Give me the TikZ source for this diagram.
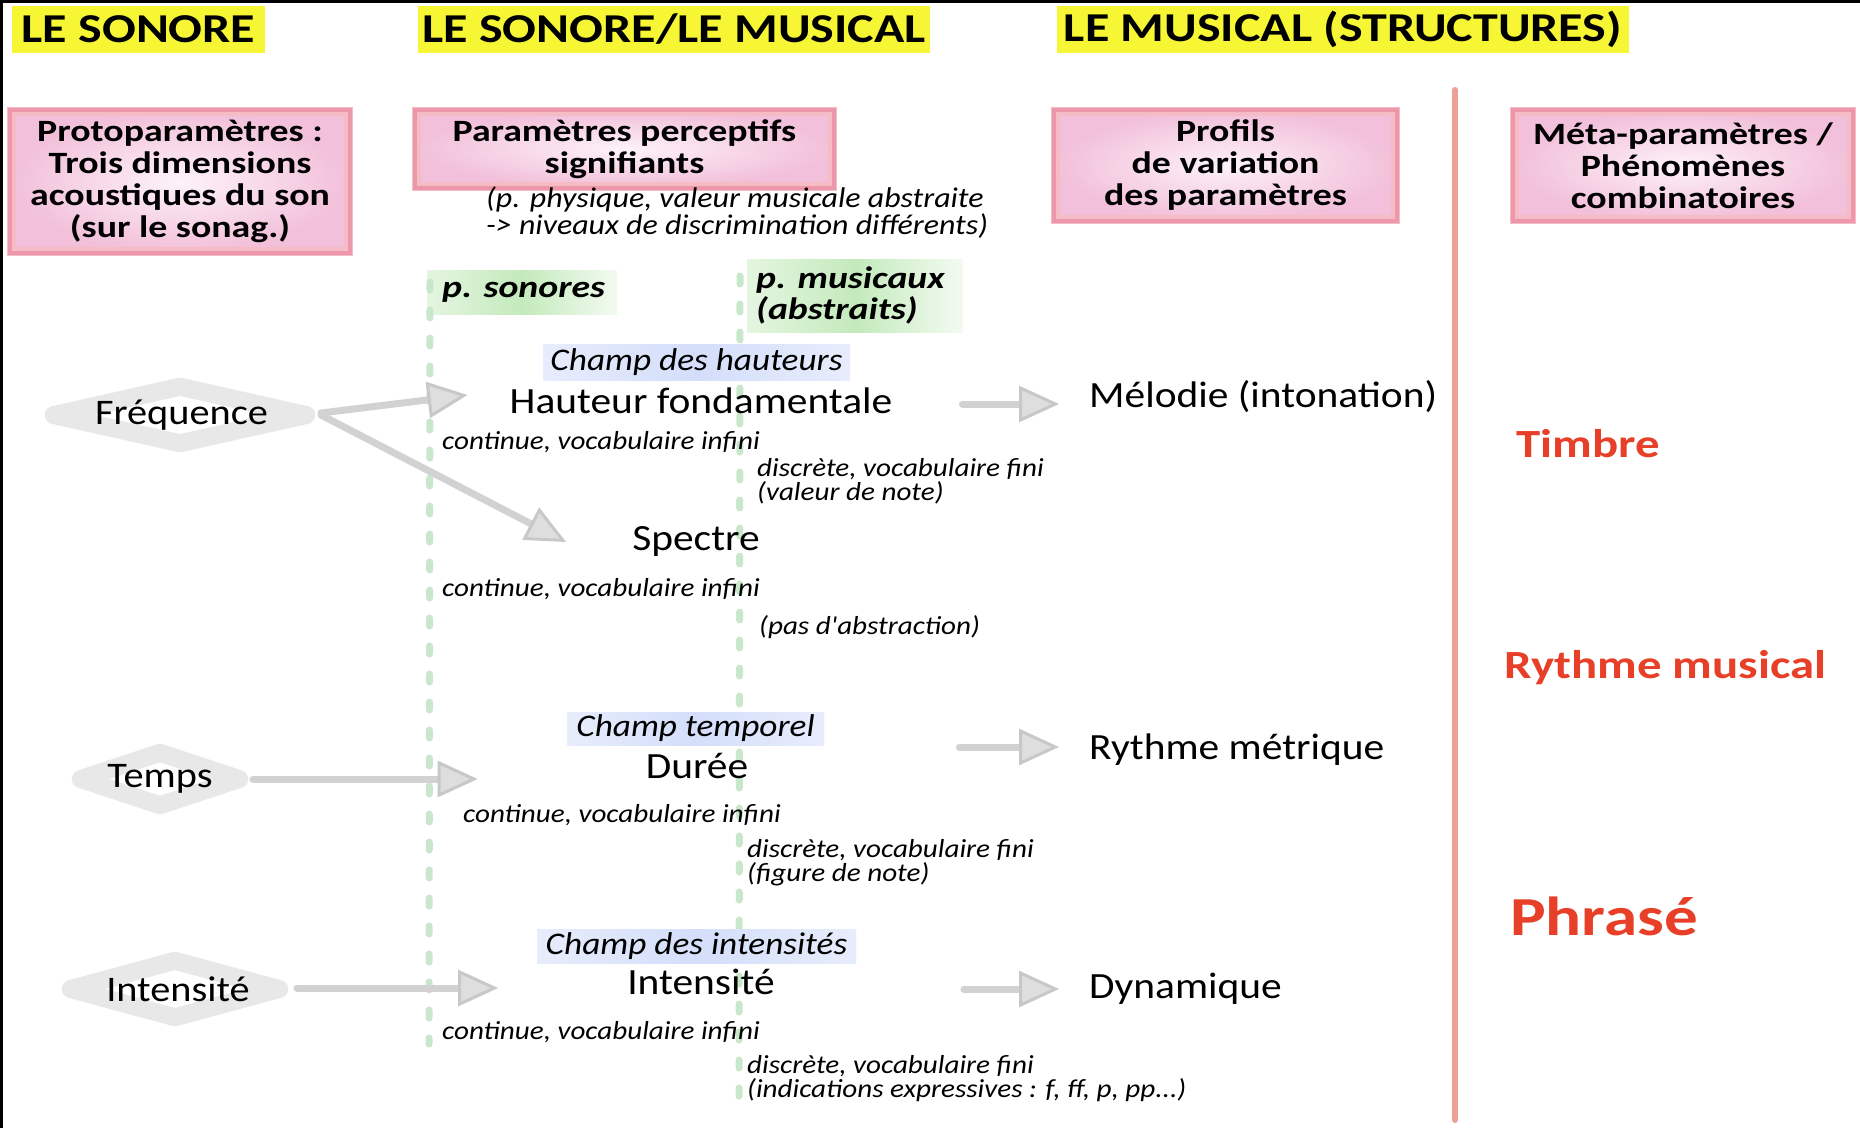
\documentclass[tikz,border=0pt]{standalone}
\usepackage{fontspec}
\setmainfont{Carlito}[FakeStretch=1.12,Ligatures=TeXOff]
\newfontfamily\widefont{Carlito}[FakeStretch=1.22,Ligatures=TeXOff]
\usetikzlibrary{shapes.geometric,arrows.meta,calc}
\definecolor{hdryellow}{RGB}{246,246,52}
\definecolor{pinkline}{RGB}{245,188,198}
\definecolor{pinkdark}{RGB}{237,152,170}
\definecolor{pinkin}{RGB}{253,242,249}
\definecolor{pinkout}{RGB}{242,192,218}
\definecolor{dashgreen}{RGB}{201,232,203}
\definecolor{labgreen}{RGB}{196,234,188}
\definecolor{labblue}{RGB}{212,222,250}
\definecolor{diagray}{RGB}{232,232,232}
\definecolor{arrline}{RGB}{210,210,210}
\definecolor{arrhead}{RGB}{200,200,200}
\definecolor{arrfill}{RGB}{222,222,222}
\definecolor{redline}{RGB}{236,160,150}
\definecolor{redtext}{RGB}{232,64,40}
\begin{document}
\begin{tikzpicture}[x=1pt,y=-1pt,
  hdr/.style={fill=hdryellow,inner sep=0,minimum height=47,font=\widefont\fontsize{41}{44}\selectfont\bfseries},
  pinkbox/.style={draw=pinkline,line width=9,shading=radial,inner color=pinkin,outer color=pinkout,
     align=center,inner sep=0,font=\widefont\fontsize{31}{32}\selectfont\bfseries},
  pinkinner/.style={draw=pinkdark,line width=3.5},
  gbox/.style={left color=labgreen!45,right color=labgreen!20,middle color=labgreen,inner sep=0},
  glab/.style={align=left,inner sep=0,font=\widefont\fontsize{31}{31}\selectfont\bfseries\itshape},
  champ/.style={left color=labblue!55,right color=labblue!55,middle color=labblue,inner sep=0,
     font=\fontsize{31.5}{33}\selectfont\itshape},
  param/.style={inner sep=0,font=\fontsize{37}{40}\selectfont},
  prof/.style={inner sep=0,anchor=west,font=\fontsize{37}{40}\selectfont},
  note/.style={inner sep=0,anchor=west,align=left,font=\fontsize{26}{24}\selectfont\itshape},
  meta/.style={inner sep=0,anchor=west,text=redtext,font=\widefont\fontsize{40}{44}\selectfont\bfseries},
  dia/.style={shape=diamond,draw=diagray,fill=white,line width=18,line join=round,inner sep=0},
  dtext/.style={inner sep=0,font=\fontsize{36}{40}\selectfont},
  garrow/.style={draw=arrline,line width=7,line cap=round,
     -{Triangle[length=40pt,width=36pt,color=arrhead,fill=arrfill,line width=3pt]}},
  gdash/.style={draw=dashgreen,line width=7,line cap=round,dash pattern=on 8pt off 20pt}
]
\useasboundingbox (0,0) rectangle (1860,1128);
\fill[white] (0,0) rectangle (1860,1128);
\draw[line width=3] (1.5,1128) -- (1.5,1.5) -- (1860,1.5);

% headers
\node[hdr,minimum width=253] (h1) at (138.5,29.5) {LE SONORE};
\node[hdr,minimum width=512] (h2) at (674,29.5) {LE SONORE/LE MUSICAL};
\node[hdr,minimum width=572] (h3) at (1343,29.5) {LE MUSICAL (STRUCTURES)};

% pink boxes
\node[pinkbox,minimum width=337,minimum height=140] (proto) at (180,181.5)
  {Protoparamètres :\\Trois dimensions\\acoustiques du son\\(sur le sonag.)};
\node[pinkbox,minimum width=416,minimum height=75] (perc) at (624.5,149)
  {Paramètres perceptifs\\signifiants};
\node[pinkbox,minimum width=340,minimum height=108] (prof) at (1225.5,165.5)
  {Profils\\de variation\\des paramètres};
\node[pinkbox,minimum width=337,minimum height=108] (metap) at (1683,165.5)
  {Méta-paramètres /\\Phénomènes\\combinatoires};
\foreach \b in {proto,perc,prof,metap}
  \draw[pinkinner] ($(\b.north west)+(3,3)$) rectangle ($(\b.south east)+(-3,-3)$);
\node[note,font=\fontsize{28.5}{27}\selectfont\itshape] (pnote) at (486,213)
  {(p. physique, valeur musicale abstraite\\-> niveaux de discrimination différents)};

% separator
\draw[draw=redline,line width=6,line cap=round] (1455,90) -- (1455,1120);

% green dashed lines and labels
\node[gbox,minimum width=190,minimum height=44] (gs) at (522,292) {};
\node[gbox,minimum width=216,minimum height=73] (gm) at (855,295.5) {};
\draw[gdash] (430,282) -- (429,1044);
\draw[gdash] (740,276) -- (739,1097);
\node[glab,anchor=west] (ps) at (442,292) {p. sonores};
\node[glab,anchor=west] (pm) at (756,295.5) {p. musicaux\\(abstraits)};

% champ labels
\node[champ,minimum width=307,minimum height=36] (c1) at (696.5,362) {Champ des hauteurs};
\node[champ,minimum width=257,minimum height=33] (c2) at (695.5,728.5) {Champ temporel};
\node[champ,minimum width=319,minimum height=34] (c3) at (696.5,946) {Champ des intensités};

% diamonds
\node[dia,minimum width=260,minimum height=64] (freqd) at (180,415) {};
\node[dtext] (freq) at (181.5,415) {Fréquence};
\node[dia,minimum width=166,minimum height=60] (tempsd) at (160,779) {};
\node[dtext] (temps) at (160,779) {Temps};
\node[dia,minimum width=216,minimum height=64] (intd) at (175,989) {};
\node[dtext] (int) at (178,989) {Intensité};

% parameters
\node[param] (haut) at (701,401) {Hauteur fondamentale};
\node[param] (spec) at (696,541) {Spectre};
\node[param] (duree) at (697,766) {Durée};
\node[param] (intp) at (701,982) {Intensité};

% notes
\node[note] (n1) at (442,442) {continue, vocabulaire infini};
\node[note] (n2) at (757,481) {discrète, vocabulaire fini\\(valeur de note)};
\node[note] (n3) at (442,589) {continue, vocabulaire infini};
\node[note] (n4) at (759,627) {(pas d'abstraction)};
\node[note] (n5) at (463,815) {continue, vocabulaire infini};
\node[note] (n6) at (747,863) {discrète, vocabulaire fini\\(figure de note)};
\node[note] (n7) at (442,1032) {continue, vocabulaire infini};
\node[note] (n8) at (747,1079) {discrète, vocabulaire fini\\(indications expressives : f, ff, p, pp...)};

% profiles
\node[prof] (melo) at (1089,397) {Mélodie (intonation)};
\node[prof] (ryth) at (1089,750) {Rythme métrique};
\node[prof] (dyn) at (1089,989) {Dynamique};

% meta
\node[meta] (timbre) at (1516,444) {Timbre};
\node[meta] (rmus) at (1504,668) {Rythme musical};
\node[meta,font=\widefont\fontsize{55}{60}\selectfont\bfseries] (phr) at (1510,916) {Phrasé};

% arrows
\draw[garrow] ($(freqd.east)+(2,-2)$) -- ($(haut.west)+(-42,-6)$);
\draw[garrow] ($(freqd.east)+(2,0)$) -- ($(spec.west)+(-66,1)$);
\draw[garrow] ($(tempsd.east)+(1,0)$) -- ($(duree.west)+(-168,13)$);
\draw[garrow] ($(intd.east)+(5,-1)$) -- ($(intp.west)+(-129,6)$);
\draw[garrow] ($(haut.east)+(70,3)$) -- ($(melo.west)+(-30,7)$);
\draw[garrow] ($(duree.east)+(211,-19)$) -- ($(ryth.west)+(-30,-3)$);
\draw[garrow] ($(intp.east)+(189,7)$) -- ($(dyn.west)+(-30,0)$);
\end{tikzpicture}
\end{document}
